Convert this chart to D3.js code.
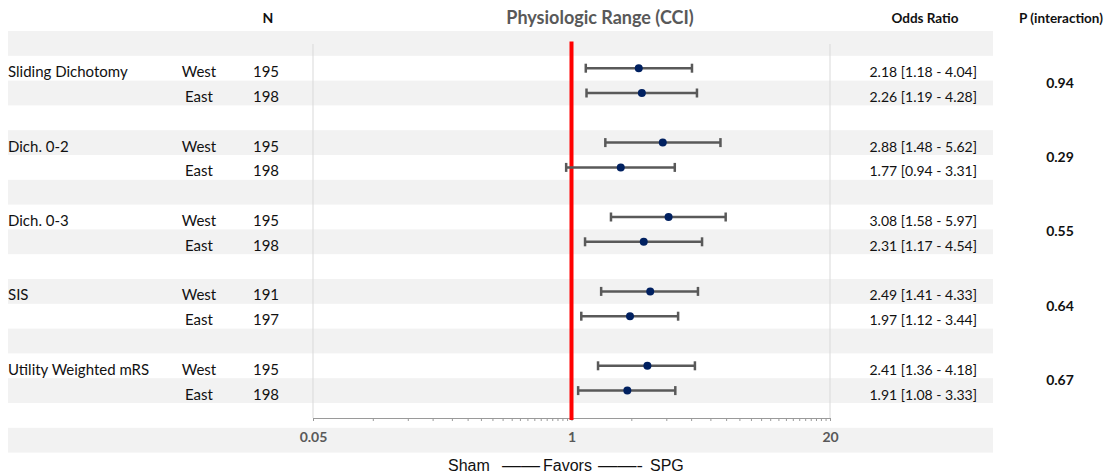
<!DOCTYPE html>
<html>
<head>
<meta charset="utf-8">
<script src="https://cdn.jsdelivr.net/npm/d3@7"></script>
<style>
  html, body { margin: 0; padding: 0; background: #ffffff; }
  svg { display: block; }
  text { font-family: Lato, "Open Sans", sans-serif; }
</style>
</head>
<body>
<svg id="chart" width="1112" height="476"></svg>
<script>
// Forest plot data: odds ratios with 95% CI by region
const outcomes = ["Sliding Dichotomy", "Dich. 0-2", "Dich. 0-3", "SIS", "Utility Weighted mRS"];
const regions = ["West", "East"];
const nWest = [195, 195, 195, 191, 195];
const nEast = [198, 198, 198, 197, 198];
const orWest = [2.18, 2.88, 3.08, 2.49, 2.41];
const loWest = [1.18, 1.48, 1.58, 1.41, 1.36];
const hiWest = [4.04, 5.62, 5.97, 4.33, 4.18];
const orEast = [2.26, 1.77, 2.31, 1.97, 1.91];
const loEast = [1.19, 0.94, 1.17, 1.12, 1.08];
const hiEast = [4.28, 3.31, 4.54, 3.44, 3.33];
const pInteraction = [0.94, 0.29, 0.55, 0.64, 0.67];
const majorTicks = [0.05, 1, 20];
const minorTicks = d3.range(2, 20).map(k => +(k * 0.05).toFixed(2)).concat(d3.range(2, 20));

const fmt = d3.format(".2f");

// one record per plotted row
const rows = [];
outcomes.forEach((name, g) => {
  rows.push({ group: g, label: name, region: regions[0], n: nWest[g], or: orWest[g], lo: loWest[g], hi: hiWest[g], row: 1 + 3 * g });
  rows.push({ group: g, label: "", region: regions[1], n: nEast[g], or: orEast[g], lo: loEast[g], hi: hiEast[g], row: 2 + 3 * g });
});

const svg = d3.select("#chart");

const y = d3.scaleBand().domain(d3.range(17)).range([31, 452.6]).paddingInner(0).paddingOuter(0);
const x = d3.scaleLog().domain([0.05, 20]).range([313, 830]);
const yc = i => y(i) + y.bandwidth() / 2;

// alternating row shading
svg.append("g").selectAll("rect")
  .data(d3.range(17).filter(i => i % 2 === 0))
  .join("rect")
  .attr("x", 8).attr("width", 985)
  .attr("y", i => y(i)).attr("height", y.bandwidth())
  .attr("fill", "#f2f2f2");

// vertical frame lines of the plot area
const axisY = 418;
svg.append("g").selectAll("line")
  .data([0.05, 20])
  .join("line")
  .attr("x1", d => x(d)).attr("x2", d => x(d))
  .attr("y1", 44).attr("y2", axisY)
  .attr("stroke", "#d9d9d9").attr("stroke-width", 1);

// log axis with minor ticks
const axis = d3.axisBottom(x)
  .tickValues(majorTicks.concat(minorTicks))
  .tickSize(3)
  .tickSizeOuter(0)
  .tickPadding(11)
  .tickFormat(d => majorTicks.includes(d) ? String(d) : "");
const axG = svg.append("g").attr("transform", `translate(0,${axisY})`).call(axis);
axG.select(".domain").attr("stroke", "#9a9a9a");
axG.selectAll(".tick line").attr("stroke", "#9a9a9a");
axG.selectAll(".tick text")
  .attr("fill", "#595959")
  .style("font-family", "Lato, sans-serif")
  .style("font-size", "14px")
  .style("font-weight", "bold");

// reference line at OR = 1
svg.append("line")
  .attr("x1", x(1)).attr("x2", x(1))
  .attr("y1", 41.5).attr("y2", 420)
  .attr("stroke", "#ff0000").attr("stroke-width", 4);

// confidence intervals
const ci = svg.append("g").attr("stroke", "#595959").attr("stroke-width", 2.5);
ci.selectAll("line.ci").data(rows).join("line").attr("class", "ci")
  .attr("x1", d => x(d.lo)).attr("x2", d => x(d.hi))
  .attr("y1", d => yc(d.row)).attr("y2", d => yc(d.row));
ci.selectAll("line.capl").data(rows).join("line").attr("class", "capl")
  .attr("x1", d => x(d.lo)).attr("x2", d => x(d.lo))
  .attr("y1", d => yc(d.row) - 4.5).attr("y2", d => yc(d.row) + 4.5);
ci.selectAll("line.caph").data(rows).join("line").attr("class", "caph")
  .attr("x1", d => x(d.hi)).attr("x2", d => x(d.hi))
  .attr("y1", d => yc(d.row) - 4.5).attr("y2", d => yc(d.row) + 4.5);

// point estimates
svg.append("g").selectAll("circle").data(rows).join("circle")
  .attr("cx", d => x(d.or)).attr("cy", d => yc(d.row))
  .attr("r", 4).attr("fill", "#002060");

// row text
const textG = svg.append("g").style("font-size", "15px").attr("fill", "#111111");
textG.selectAll("text.lab").data(rows.filter(d => d.label)).join("text").attr("class", "lab")
  .attr("x", 8).attr("y", d => yc(d.row) + 9).text(d => d.label);
textG.selectAll("text.reg").data(rows).join("text").attr("class", "reg")
  .attr("x", 199).attr("text-anchor", "middle")
  .attr("y", d => yc(d.row) + 9).text(d => d.region);
textG.selectAll("text.n").data(rows).join("text").attr("class", "n")
  .attr("x", 266).attr("text-anchor", "middle")
  .attr("y", d => yc(d.row) + 9).text(d => d.n);
textG.selectAll("text.or").data(rows).join("text").attr("class", "or")
  .attr("x", 977).attr("text-anchor", "end")
  .attr("y", d => yc(d.row) + 9)
  .style("font-size", "14px")
  .text(d => `${fmt(d.or)} [${fmt(d.lo)} - ${fmt(d.hi)}]`);

// interaction p-values between each pair of rows
svg.append("g").selectAll("text").data(pInteraction).join("text")
  .attr("x", 1060).attr("text-anchor", "middle")
  .attr("y", (p, g) => y(2 + 3 * g) + 7)
  .style("font-size", "14px").style("font-weight", "bold").attr("fill", "#111111")
  .text(p => fmt(p));

// headers
const hdr = svg.append("g").style("font-weight", "bold").attr("fill", "#111111");
hdr.append("text").attr("x", 268).attr("y", 23).attr("text-anchor", "middle").style("font-size", "14px").text("N");
hdr.append("text").attr("x", 925).attr("y", 23).attr("text-anchor", "middle").style("font-size", "13.5px").text("Odds Ratio");
hdr.append("text").attr("x", 1061).attr("y", 23).attr("text-anchor", "middle").style("font-size", "13.5px").text("P (interaction)");
hdr.append("text").attr("x", 600).attr("y", 24).attr("text-anchor", "middle")
  .style("font-size", "18px").attr("fill", "#595959").text("Physiologic Range (CCI)");

// direction legend below the axis
const leg = svg.append("text").attr("y", 471)
  .style("font-family", "'Liberation Sans', Arial, sans-serif").style("font-size", "16px").attr("fill", "#111111");
leg.append("tspan").attr("x", 448).text("Sham");
leg.append("tspan").attr("x", 502).attr("textLength", 38).attr("lengthAdjust", "spacingAndGlyphs").text("——");
leg.append("tspan").attr("x", 543).text("Favors");
leg.append("tspan").attr("x", 598).attr("textLength", 45).attr("lengthAdjust", "spacingAndGlyphs").text("——-");
leg.append("tspan").attr("x", 650).text("SPG");
</script>
</body>
</html>
